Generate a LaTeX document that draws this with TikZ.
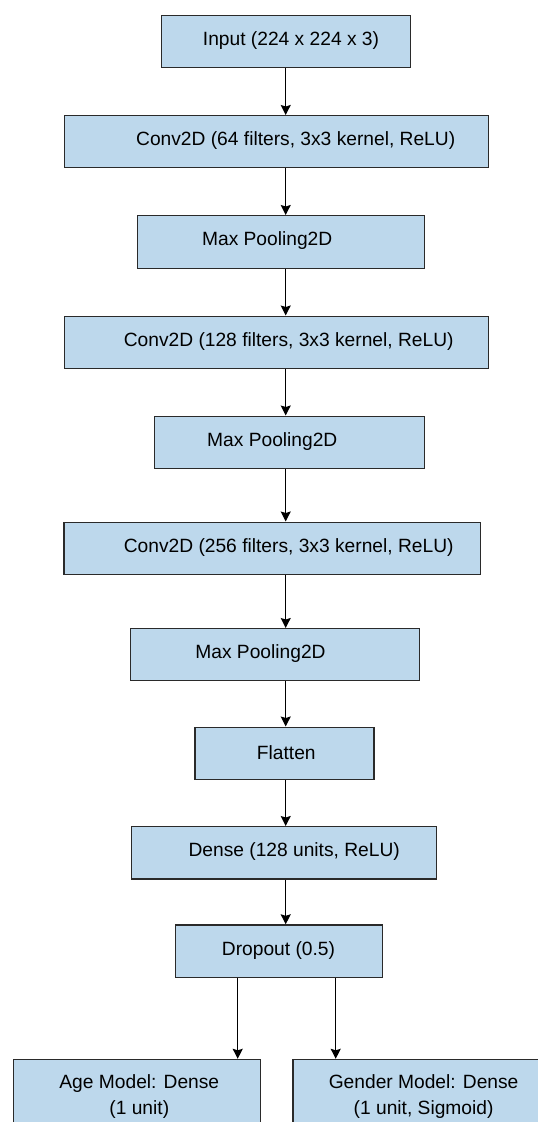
\documentclass[tikz,border=0pt]{standalone}
\usepackage{fontspec}
\setmainfont{Liberation Sans}
\usetikzlibrary{arrows.meta}
\definecolor{boxfill}{HTML}{BDD8EC}
\definecolor{boxline}{HTML}{2A2A2A}
\tikzset{
  layerbox/.style={draw=boxline, fill=boxfill, line width=1.3pt, rectangle, inner sep=0pt, anchor=north west},
  layertext/.style={font=\fontsize{19.2}{25.8}\selectfont, align=center, inner sep=0pt, text=black},
  conn/.style={line width=1.2pt, draw=black, -{Stealth[length=10pt,width=10pt,inset=1.5pt]}}
}
\begin{document}
\begin{tikzpicture}[x=1pt,y=-1pt]
\useasboundingbox (0,0) rectangle (538,1122);
\begin{scope}
\clip (0,0) rectangle (538,1122);
\coordinate (axis) at (285.7,0);
% boxes
\node[layerbox, minimum width=249pt, minimum height=52pt] (in) at (161,14.5) {};
\node[layerbox, minimum width=424pt, minimum height=51.5pt] (c1) at (64,115) {};
\node[layerbox, minimum width=286.5pt, minimum height=52.5pt] (p1) at (137,215) {};
\node[layerbox, minimum width=424pt, minimum height=52pt] (c2) at (64,315.5) {};
\node[layerbox, minimum width=269.5pt, minimum height=52.5pt] (p2) at (154,415.5) {};
\node[layerbox, minimum width=416.7pt, minimum height=52.5pt] (c3) at (63.3,521.5) {};
\node[layerbox, minimum width=288.5pt, minimum height=52pt] (p3) at (130,628) {};
\node[layerbox, minimum width=179pt, minimum height=52.5pt] (fl) at (194.3,726.5) {};
\node[layerbox, minimum width=305pt, minimum height=52.3pt] (de) at (130.7,826) {};
\node[layerbox, minimum width=206.7pt, minimum height=52.4pt] (dr) at (175,924.3) {};
\node[layerbox, minimum width=247.1pt, minimum height=90pt] (age) at (12.7,1058.8) {};
\node[layerbox, minimum width=260pt, minimum height=90pt] (gen) at (292.4,1058.8) {};
% texts
\node[layertext] (tin) at (291,40.5) {Input (224 x 224 x 3)};
\node[layertext] (tc1) at (295.7,141) {Conv2D (64 filters, 3x3 kernel, ReLU)};
\node[layertext] (tp1) at (267.2,241) {Max Pooling2D};
\node[layertext] (tc2) at (288.7,341.5) {Conv2D (128 filters, 3x3 kernel, ReLU)};
\node[layertext] (tp2) at (272.3,442) {Max Pooling2D};
\node[layertext] (tc3) at (288.7,548) {Conv2D (256 filters, 3x3 kernel, ReLU)};
\node[layertext] (tp3) at (260.5,654) {Max Pooling2D};
\node[layertext] (tfl) at (286.3,753) {Flatten};
\node[layertext] (tde) at (294.2,852) {Dense (128 units, ReLU)};
\node[layertext] (tdr) at (278.5,950.5) {Dropout (0.5)};
\node[layertext] (tage) at (139.3,1096.4) {Age Model: Dense\\(1 unit)};
\node[layertext] (tgen) at (423.6,1096.4) {Gender Model: Dense\\(1 unit, Sigmoid)};
% connectors
\draw[conn] (in.south -| axis) -- (c1.north -| axis);
\draw[conn] (c1.south -| axis) -- (p1.north -| axis);
\draw[conn] (p1.south -| axis) -- (c2.north -| axis);
\draw[conn] (c2.south -| axis) -- (p2.north -| axis);
\draw[conn] (p2.south -| axis) -- (c3.north -| axis);
\draw[conn] (c3.south -| axis) -- (p3.north -| axis);
\draw[conn] (p3.south -| axis) -- (fl.north -| axis);
\draw[conn] (fl.south -| axis) -- (de.north -| axis);
\draw[conn] (de.south -| axis) -- (dr.north -| axis);
\coordinate (la) at (237.7,0);
\coordinate (lg) at (335.7,0);
\draw[conn] (dr.south -| la) -- (age.north -| la);
\draw[conn] (dr.south -| lg) -- (gen.north -| lg);
\end{scope}
\end{tikzpicture}
\end{document}
